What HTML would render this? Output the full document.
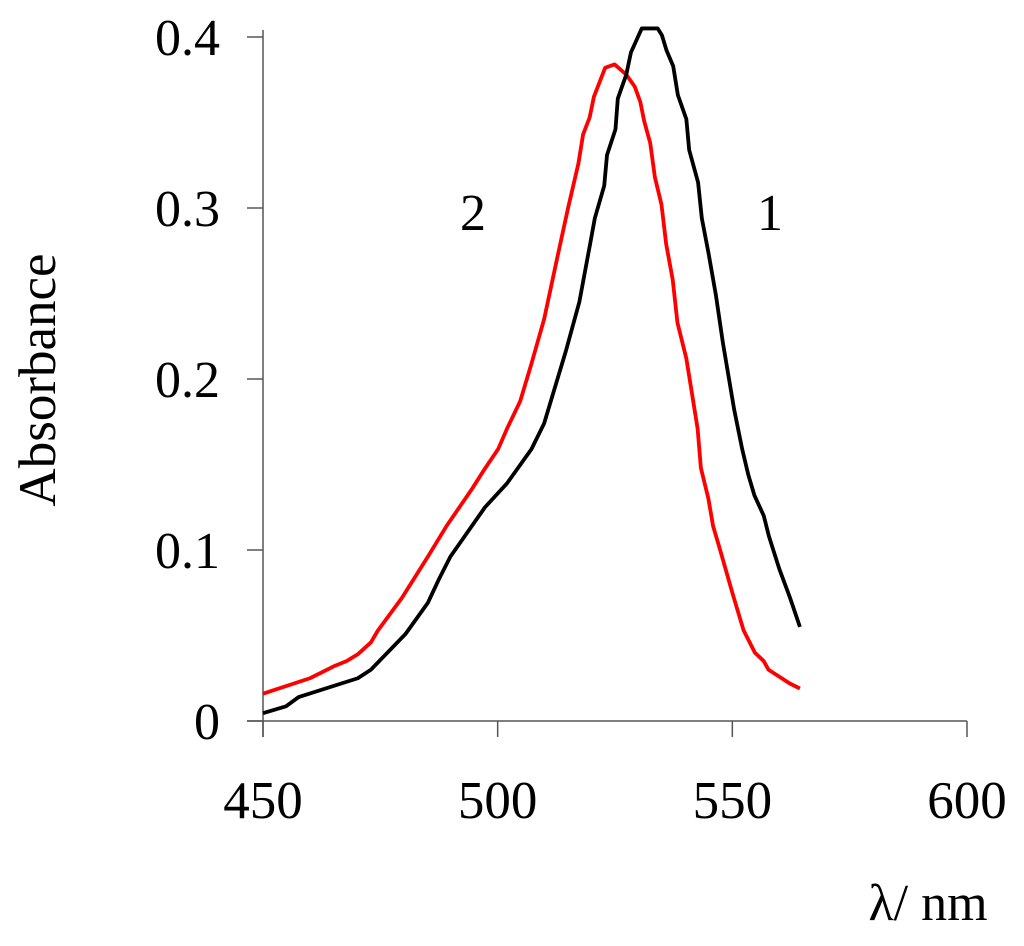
<!DOCTYPE html>
<html><head><meta charset="utf-8"><style>
body{margin:0;background:#fff}
svg text{font-family:"Liberation Serif",serif;fill:#000}
</style></head><body>
<svg width="1024" height="941" viewBox="0 0 1024 941">
<g id="axes"></g><g id="series"></g>
<text x="473" y="230" font-size="52" text-anchor="middle">2</text>
<text x="770" y="230" font-size="52" text-anchor="middle">1</text>
<text transform="translate(55,380) rotate(-90)" font-size="53" text-anchor="middle">Absorbance</text>
<text x="928" y="920" font-size="52" text-anchor="middle">λ/ nm</text>
</svg>
<script>
const xTicks=[450,500,550,600];
const yTicks=[0,0.1,0.2,0.3,0.4];
const yTickLabels=["0","0.1","0.2","0.3","0.4"];
const wl1=[450,454.9,457.6,470.2,473,480.4,485.1,487.5,489.9,497.3,502,507.2,509.9,514.6,517.4,519.7,520.7,522.7,523.3,525.1,525.6,527.4,528.4,530.7,534.1,535,536,537.4,538.4,540.2,540.8,542.7,543.5,544.9,546.5,548,550.4,552.1,553.4,554.7,556.7,557.8,560,562.3,564.4];
const abs1=[0.0046,0.0086,0.014,0.025,0.030,0.051,0.069,0.083,0.096,0.125,0.139,0.159,0.174,0.217,0.245,0.279,0.294,0.313,0.331,0.346,0.364,0.378,0.391,0.405,0.405,0.401,0.392,0.383,0.366,0.352,0.334,0.315,0.294,0.274,0.249,0.221,0.182,0.159,0.144,0.132,0.120,0.108,0.089,0.072,0.055];
const wl2=[450,460,465.1,467.8,470.2,473,474.5,479.6,485.1,489.1,494.6,496.9,500.1,502,504.8,507.2,509.9,512.7,515,517.2,518.2,519.6,520.5,522.9,524.9,527.4,529.2,530.4,531.2,532.5,533.5,534.9,535.9,537.3,538.3,540.2,542.6,543.3,544.9,545.9,547.3,550,552.4,554.8,556.7,557.7,562.2,564.4];
const abs2=[0.016,0.025,0.032,0.035,0.039,0.046,0.053,0.072,0.096,0.114,0.136,0.146,0.159,0.171,0.187,0.209,0.235,0.271,0.300,0.326,0.343,0.353,0.365,0.382,0.384,0.378,0.371,0.362,0.351,0.338,0.318,0.302,0.279,0.258,0.233,0.212,0.171,0.148,0.130,0.114,0.101,0.075,0.053,0.040,0.035,0.030,0.022,0.019];
const NS="http://www.w3.org/2000/svg";
const X=v=>263+(v-450)*(967-263)/150;
const Y=v=>721-v*(721-37)/0.4;
const ax=document.getElementById('axes'),se=document.getElementById('series');
function mk(tag,attrs,parent){const e=document.createElementNS(NS,tag);for(const k in attrs)e.setAttribute(k,attrs[k]);parent.appendChild(e);return e;}
let l=mk('line',{x1:263,y1:30,x2:263,y2:737,stroke:'#555','stroke-width':1.5},ax);


l=mk('line',{x1:247,y1:721,x2:967,y2:721,stroke:'#555','stroke-width':1.5},ax);


xTicks.forEach(t=>{
 const tk=mk('line',{x1:X(t),y1:721,x2:X(t),y2:737,stroke:'#555','stroke-width':1.5},ax);
 
 
 const tx=mk('text',{x:X(t),y:818,'font-size':53,'text-anchor':'middle'},ax);tx.textContent=t;
 
 
});
yTicks.forEach((t,i)=>{
 const tk=mk('line',{x1:247,y1:Y(t),x2:263,y2:Y(t),stroke:'#555','stroke-width':1.5},ax);
 
 
 const tx=mk('text',{x:220,y:Y(t)+18,'font-size':52,'text-anchor':'end'},ax);tx.textContent=yTickLabels[i];
 
 
});
function line(xs,ys,col,name){
 const p=mk('polyline',{points:xs.map((x,i)=>X(x)+','+Y(ys[i])).join(' '),fill:'none',stroke:col,'stroke-width':3.8,'stroke-linejoin':'round'},se);
 
 
}
line(wl2,abs2,'#ff0000','series-2-line');
line(wl1,abs1,'#000000','series-1-line');
</script>
</body></html>
